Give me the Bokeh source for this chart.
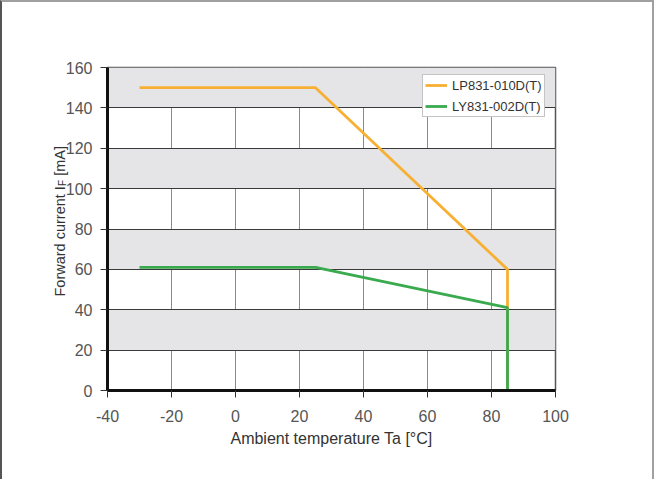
import math
from bokeh.plotting import figure
from bokeh.models import (SingleIntervalTicker, Legend, LegendItem, Range1d,
                          PrintfTickFormatter, Label)
from bokeh.embed import file_html
from bokeh.resources import INLINE

# data
temp_lp = [-30, 25, 85, 85]
current_lp = [150, 150, 60, 0]
temp_ly = [-30, 25, 85, 85]
current_ly = [61, 61, 41, 0]
series_names = ["LP831-010D(T)", "LY831-002D(T)"]
x_label = "Ambient temperature Ta [°C]"
y_label_parts = ["Forward current I", "F", "[mA]"]
x_ticks_interval = 20
y_ticks_interval = 20

ORANGE = "#F7B034"
GREEN = "#3AAA4F"
FONT = "Liberation Sans"

p = figure(width=654, height=479, output_backend="svg", toolbar_location=None,
           x_range=Range1d(-40, 100), y_range=Range1d(0, 160),
           min_border_left=105, min_border_right=101, min_border_top=65, min_border_bottom=91)
p.styles = {"border-top": "2px solid #a0a0a0", "border-left": "2px solid #555555",
            "border-right": "2px solid #a0a0a0"}

p.xaxis.ticker = SingleIntervalTicker(interval=x_ticks_interval)
p.yaxis.ticker = SingleIntervalTicker(interval=y_ticks_interval)
for ax in (p.xaxis[0], p.yaxis[0]):
    ax.formatter = PrintfTickFormatter(format="%d")
    ax.axis_line_color = "#111111"
    ax.axis_line_width = 3
    ax.major_tick_line_color = "#333333"
    ax.major_tick_line_width = 1
    ax.major_tick_out = 7
    ax.major_tick_in = 0
    ax.minor_tick_line_color = None
    ax.major_label_text_font = FONT
    ax.major_label_text_font_size = "16px"
    ax.major_label_text_color = "#555555"
    ax.axis_label_text_font = FONT
    ax.axis_label_text_font_size = "16px"
    ax.axis_label_text_font_style = "normal"
    ax.axis_label_text_color = "#333333"

p.xaxis.axis_label = x_label
p.xaxis.major_label_standoff = 12
p.yaxis.major_label_standoff = 8
p.xaxis.axis_label_standoff = 5

# y axis label with subscript F: rotated labels in the left panel, positioned
# relative to the frame's lower-left corner through data units plus pixel offsets
ylab_size = 14.5
start_off = 94
w_main = 7.613 * ylab_size
w_sub = 6.3
w_space = 0.278 * ylab_size
base_off = -48
common = dict(x=-40, y=0, angle=math.pi / 2, text_font=FONT,
              text_color="#333333", text_align="left", text_baseline="alphabetic")
p.add_layout(Label(text=y_label_parts[0], x_offset=base_off, y_offset=start_off,
                   text_font_size=f"{ylab_size}px", **common), "left")
p.add_layout(Label(text=y_label_parts[1], x_offset=base_off + 2.5, y_offset=start_off + w_main,
                   text_font_size="10px", **common), "left")
p.add_layout(Label(text=y_label_parts[2], x_offset=base_off,
                   y_offset=start_off + w_main + w_sub + w_space,
                   text_font_size=f"{ylab_size}px", **common), "left")

p.ygrid.grid_line_color = "#3a3a3a"
p.ygrid.grid_line_width = 1
p.ygrid.band_fill_color = "#e5e5e7"
p.ygrid.band_fill_alpha = 1.0
p.xgrid.grid_line_color = "#8a8a8a"
p.xgrid.grid_line_width = 1

p.outline_line_color = "#555555"
p.outline_line_width = 1.5
p.background_fill_color = "white"
p.border_fill_color = "white"

r1 = p.line(temp_lp, current_lp, line_color=ORANGE, line_width=2.8)
r2 = p.line(temp_ly, current_ly, line_color=GREEN, line_width=2.8)

legend = Legend(items=[LegendItem(label=series_names[0], renderers=[r1]),
                       LegendItem(label=series_names[1], renderers=[r2])],
                location=(315, 273))
legend.label_text_font = FONT
legend.label_text_font_size = "13px"
legend.label_text_color = "#333333"
legend.border_line_color = "#8a8a8a"
legend.border_line_width = 1
legend.background_fill_color = "white"
legend.background_fill_alpha = 1.0
legend.glyph_width = 22
legend.glyph_height = 16
legend.label_height = 16
legend.label_standoff = 5
legend.padding = 2
legend.spacing = 5
legend.margin = 0
p.add_layout(legend)

open("out.html", "w").write(file_html(p, INLINE))
